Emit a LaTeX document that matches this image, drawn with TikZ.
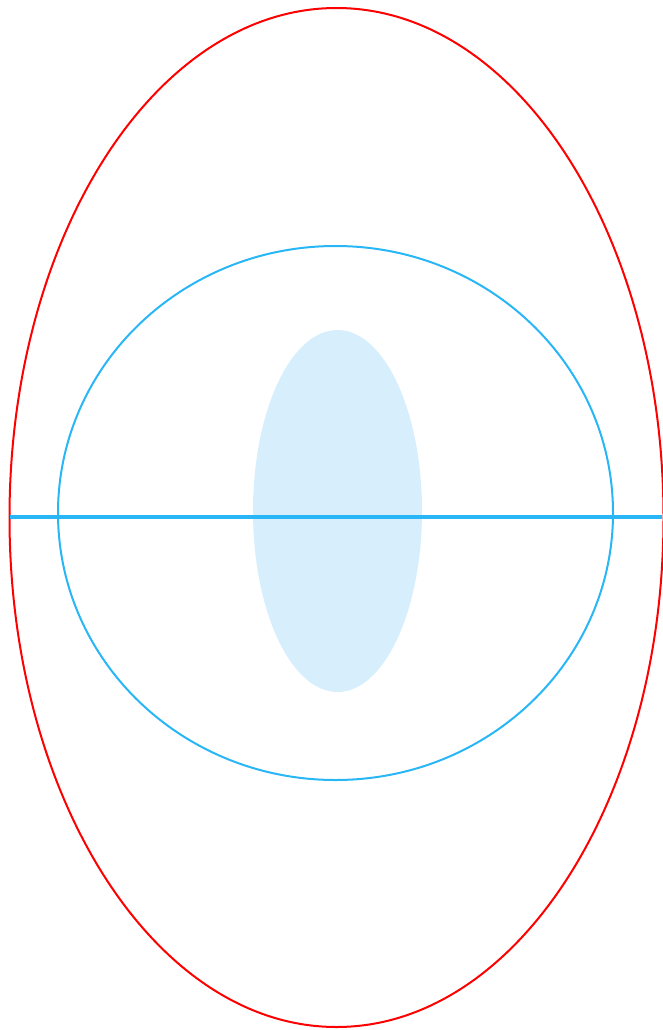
\documentclass[tikz,border=0pt]{standalone}
\definecolor{ringred}{RGB}{255,0,0}
\definecolor{skyblue}{RGB}{41,182,246}
\definecolor{paleblue}{RGB}{215,238,253}
\begin{document}
\begin{tikzpicture}[x=1pt,y=-1pt]
\tikzset{outer/.style={draw=ringred,line width=2pt},
  inner/.style={draw=skyblue,line width=2pt},
  axis/.style={draw=skyblue,line width=4.5pt}}
\useasboundingbox (0,0) rectangle (662,1030);
\fill[paleblue](337.5,511) ellipse [x radius=84.5,y radius=181];
\draw[outer](336.5,517.5) ellipse [x radius=327,y radius=509.5];
\draw[inner](335.5,513) ellipse [x radius=277.5,y radius=267];
\coordinate (L) at (10,517);
\coordinate (R) at (662,517);
\draw[axis](L)--(R);
\end{tikzpicture}
\end{document}
